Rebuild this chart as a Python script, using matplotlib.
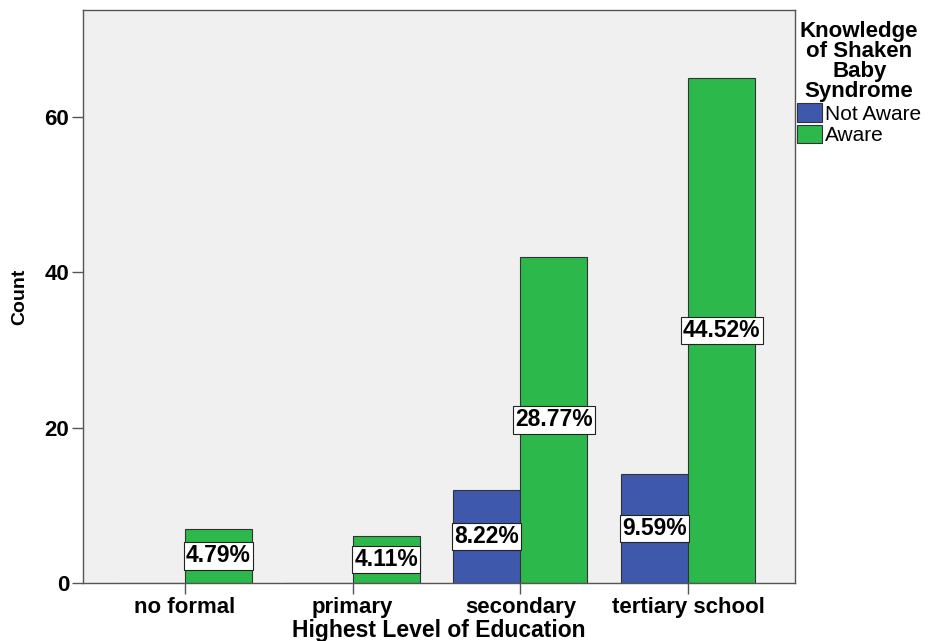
import numpy as np
import matplotlib.pyplot as plt

# counts per education level, split by awareness of shaken baby syndrome
levels = ["no formal", "primary", "secondary", "tertiary school"]
not_aware = [0, 0, 12, 14]
aware = [7, 6, 42, 65]

total = sum(not_aware) + sum(aware)

plt.rcParams['font.family'] = ['Liberation Sans', 'DejaVu Sans']

fig = plt.figure(figsize=(9.3, 6.41), dpi=100)
ax = fig.add_axes([83 / 930, 58 / 641, 712 / 930, 573 / 641])
ax.set_facecolor("#f0f0f0")

x = np.arange(len(levels))
w = 0.4
blue = "#3e58ab"
green = "#2db84b"

b1 = ax.bar(x - w / 2, not_aware, w, color=blue, edgecolor="#333333", linewidth=0.8, label="Not Aware")
b2 = ax.bar(x + w / 2, aware, w, color=green, edgecolor="#333333", linewidth=0.8, label="Aware")

# percentage of total in a white box halfway up each bar
for bars, vals in [(b1, not_aware), (b2, aware)]:
    for rect, v in zip(bars, vals):
        if v == 0:
            continue
        pct = v / total * 100
        ax.text(rect.get_x() + rect.get_width() / 2, v / 2, "%.2f%%" % pct,
                ha="center", va="center", fontsize=16.5, fontweight="bold",
                bbox=dict(boxstyle="square,pad=0.1", facecolor="white",
                          edgecolor="#222222", linewidth=0.8))

ax.set_xlim(-0.607, 3.637)
ax.set_ylim(0, 73.8)
ax.set_yticks([0, 20, 40, 60])
ax.set_xticks(x)
ax.set_xticklabels(levels, fontsize=16, fontweight="bold")
for lab in ax.get_yticklabels():
    lab.set_fontsize(16)
    lab.set_fontweight("bold")

for s in ax.spines.values():
    s.set_color("#555555")
    s.set_linewidth(1.0)
ax.tick_params(axis="both", direction="out", length=8, width=1.0, color="#555555", pad=2)

ax.set_xlabel("Highest Level of Education", fontsize=16.5, fontweight="bold", va="center")
ax.xaxis.set_label_coords(0.5, -48 / 573)
ax.set_ylabel("Count", fontsize=14, fontweight="bold", va="center")
ax.yaxis.set_label_coords(-63 / 712, 0.5)

leg = ax.legend(loc="upper left", bbox_to_anchor=(1.0, 0.985), frameon=False,
                title="Knowledge\nof Shaken\nBaby\nSyndrome",
                title_fontproperties={"weight": "bold", "size": 16},
                fontsize=15, handlelength=1.2, handleheight=1.0,
                handletextpad=0.15, labelspacing=0.05, borderaxespad=0.0,
                borderpad=0.1)
leg.get_title().set_multialignment("center")
leg.get_title().set_linespacing(0.95)
leg._legend_box.align = "center"

fig.savefig("out.png", dpi=100)
